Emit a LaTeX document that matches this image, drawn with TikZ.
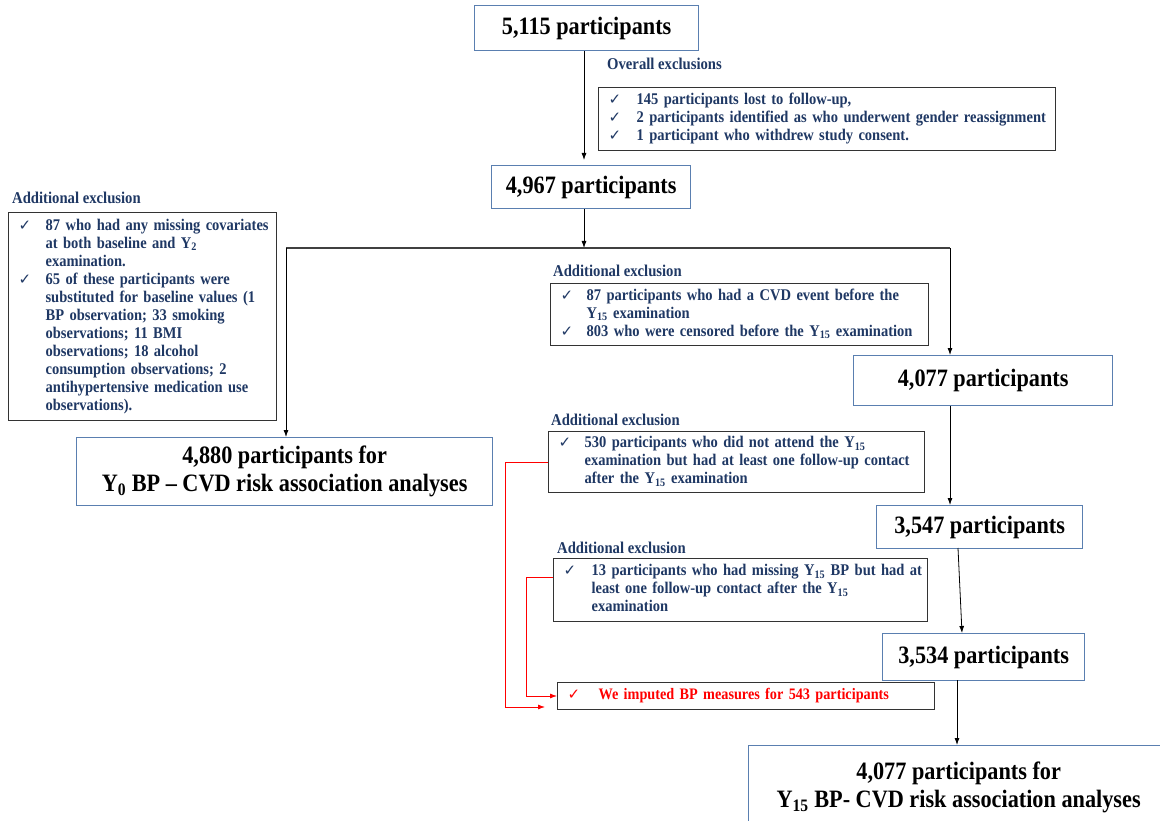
\documentclass[tikz,border=0pt]{standalone}
\usepackage{fontspec}
\setmainfont{Liberation Serif}[FakeStretch=0.89]
\newfontfamily\symf{DejaVu Sans}
\usetikzlibrary{arrows.meta}
\definecolor{navy}{HTML}{1F3864}
\definecolor{boxblue}{HTML}{5A7FB0}
\definecolor{exgray}{HTML}{333333}
\definecolor{impred}{HTML}{FF0000}
\newcommand\ckm{{\symf\fontsize{15}{15}\selectfont ✓}}
\newcommand\sbs[1]{\textsubscript{#1}}
\tikzset{
  bigbox/.style={draw=boxblue, line width=1.3pt, anchor=north west, inner sep=0pt, align=center,
    font=\fontsize{25}{28}\selectfont\bfseries, text=black},
  exbox/.style={draw=exgray, line width=1.2pt, anchor=north west, inner ysep=0pt, inner xsep=10pt,
    align=left, font=\fontsize{16.3}{18}\selectfont\bfseries, text=navy, fill=white},
  exlabel/.style={anchor=west, inner sep=0pt, font=\fontsize{16.5}{18}\selectfont\bfseries, text=navy},
  arr/.style={-{Latex[length=7pt,width=5pt]}, line width=0.8pt, draw=black},
  redarr/.style={-{Latex[length=7pt,width=5pt]}, line width=0.8pt, draw=impred},
}
\begin{document}
\begin{tikzpicture}[x=1pt,y=-1pt]
\clip (0,0) rectangle (1160,821);
\fill[white] (0,0) rectangle (1160,821);

% main flow boxes
\node[bigbox, minimum width=224pt, minimum height=45pt] (A) at (474,5) {5,115 participants};
\node[bigbox, minimum width=199pt, minimum height=43pt] (B) at (491,165) {4,967 participants};
\node[bigbox, minimum width=416pt, minimum height=68pt] (C) at (76,437) {4,880 participants for\\Y\sbs{0} BP – CVD risk association analyses};
\node[bigbox, minimum width=259pt, minimum height=50pt] (D) at (853,355) {4,077 participants};
\node[bigbox, minimum width=206pt, minimum height=43pt] (E) at (876,505) {3,547 participants};
\node[bigbox, minimum width=202pt, minimum height=47pt] (F) at (882,633) {3,534 participants};
\node[bigbox, minimum width=420pt, minimum height=84pt] (G) at (748,745) {4,077 participants for\\Y\sbs{15} BP- CVD risk association analyses};

% labels
\node[exlabel] (lo) at (607,64) {Overall exclusions};
\node[exlabel] (l1) at (12,198) {Additional exclusion};
\node[exlabel] (l2) at (553,271) {Additional exclusion};
\node[exlabel] (l3) at (551,420) {Additional exclusion};
\node[exlabel] (l4) at (557,548) {Additional exclusion};

% exclusion boxes
\node[exbox, text width=437pt, minimum height=63pt] (X0) at (598,87) {%
\begin{tabular}{@{}p{28pt}@{}l@{}}
\ckm & 145 participants lost to follow-up,\\
\ckm & 2 participants identified as who underwent gender reassignment\\
\ckm & 1 participant who withdrew study consent.
\end{tabular}};

\node[exbox, text width=248pt, minimum height=208pt] (X1) at (8,212) {%
\begin{tabular}{@{}p{27pt}@{}l@{}}
\ckm & 87 who had any missing covariates\\
 & at both baseline and Y\sbs{2}\\
 & examination.\\
\ckm & 65 of these participants were\\
 & substituted for baseline values (1\\
 & BP observation; 33 smoking\\
 & observations; 11 BMI\\
 & observations; 18 alcohol\\
 & consumption observations; 2\\
 & antihypertensive medication use\\
 & observations).
\end{tabular}};

\node[exbox, text width=358pt, minimum height=62pt] (X2) at (550,283) {%
\begin{tabular}{@{}p{26pt}@{}l@{}}
\ckm & 87 participants who had a CVD event before the\\
 & Y\sbs{15} examination\\
\ckm & 803 who were censored before the Y\sbs{15} examination
\end{tabular}};

\node[exbox, text width=356pt, minimum height=61pt] (X3) at (548,431) {%
\begin{tabular}{@{}p{26pt}@{}l@{}}
\ckm & 530 participants who did not attend the Y\sbs{15}\\
 & examination but had at least one follow-up contact\\
 & after the Y\sbs{15} examination
\end{tabular}};

\node[exbox, text width=354pt, minimum height=63pt] (X4) at (553,558) {%
\begin{tabular}{@{}p{28pt}@{}l@{}}
\ckm & 13 participants who had missing Y\sbs{15} BP but had at\\
 & least one follow-up contact after the Y\sbs{15}\\
 & examination
\end{tabular}};

\node[exbox, text width=357pt, minimum height=27pt, text=impred, font=\fontsize{16}{18}\selectfont\bfseries] (IMP) at (557,682) {%
\begin{tabular}{@{}p{31pt}@{}l@{}}
\ckm & We imputed BP measures for 543 participants
\end{tabular}};

% connectors
\coordinate (J) at (584,248);
\coordinate (L) at (286,248);
\coordinate (R) at (950,248);
\draw[arr] (A.south -| J) -- (584,160);
\draw[arr] (B.south -| J) -- (J);
\draw[line width=1.2pt, draw=black!75] (L) -- (R);
\draw[arr] (L) -- (L |- C.north);
\draw[arr] (R) -- (R |- D.north);
\draw[arr] (D.south -| R) -- (E.north -| R);
\draw[arr] (958,548) -- (962,633);
\draw[arr] (957,680) -- (957,745);

% red connectors
\coordinate (o1) at (505,462);
\coordinate (o2) at (505,707);
\coordinate (i1) at (526,577);
\coordinate (i2) at (526,696);
\draw[redarr] (X3.west |- o1) -- (o1) -- (o2) -- (545,707);
\draw[redarr] (X4.west |- i1) -- (i1) -- (i2) -- (IMP.west |- i2);
\end{tikzpicture}
\end{document}
